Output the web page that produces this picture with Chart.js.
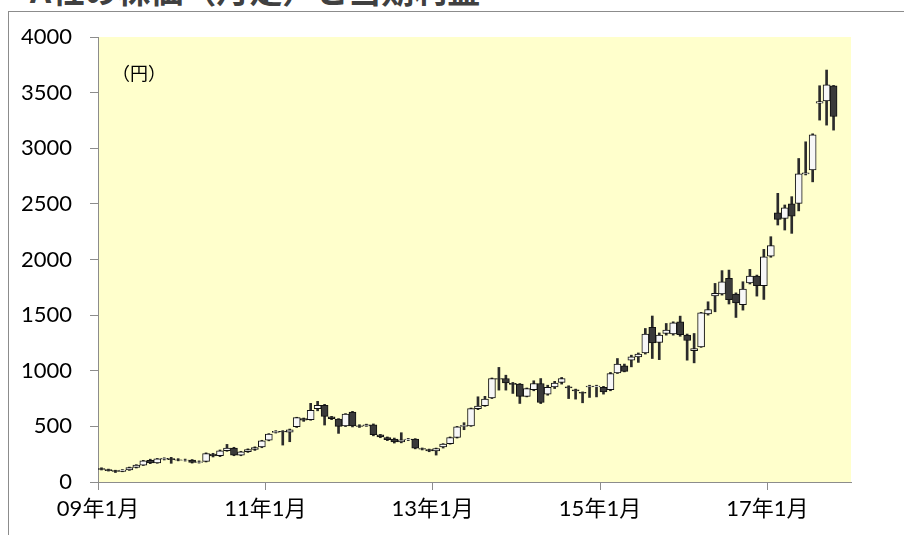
<!DOCTYPE html>
<html lang="ja">
<head>
<meta charset="utf-8">
<script src="https://cdn.jsdelivr.net/npm/chart.js@4.4.1/dist/chart.umd.min.js"></script>
<style>
  html, body { margin: 0; padding: 0; background: #fff; }
  #wrap { position: relative; width: 904px; height: 535px; overflow: hidden; }
  #title { position: absolute; left: 30px; top: -27px; font: bold 33px 'Noto Sans CJK JP'; line-height: 33px; color: #404040; white-space: nowrap; }
  #frame { position: absolute; left: 8px; top: 11px; width: 1000px; height: 1000px; border-left: 1px solid #8c8c8c; border-top: 1px solid #8c8c8c; }
  canvas { position: absolute; left: 0; top: 0; }
</style>
</head>
<body>
<div id="wrap">
  <div id="title">A社の株価（月足）と当期利益</div>
  <div id="frame"></div>
  <canvas id="viz" width="904" height="535"></canvas>
</div>
<script>
// Monthly candles, 09年1月 .. 17年10月 (yen)
const OPEN  = [120,112,102, 96,108,130,152,195,172,205,210,200,196,198,176,185,252,236,282,305,
               242,272,292,315,375,445,455,448,498,570,560,660,690,585,565,505,628,505,505,515,
               425,400,385,360,380,385,300,292,280,315,345,400,500,505,660,685,755,930,930,886,
               880,770,830,885,790,855,895,855,828,805,855,858,850,830,980,1045,1095,1125,1160,1390,
               1255,1335,1330,1440,1320,1180,1215,1510,1672,1690,1830,1690,1595,1790,1850,1765,2030,2420,2370,2500,
               2505,2770,2805,3405,3425,3560];
const HIGH  = [128,116,106,112,134,156,195,205,212,218,222,210,206,202,190,262,258,288,338,312,
               276,298,316,375,435,462,462,476,582,575,707,725,698,590,570,615,635,515,520,522,
               428,405,395,443,392,390,306,296,305,345,405,500,533,665,766,770,935,1030,960,895,
               885,845,910,930,870,905,940,865,835,810,870,870,860,985,1110,1060,1140,1160,1380,1492,
               1340,1425,1440,1491,1330,1335,1525,1620,1785,1900,1905,1700,1800,1911,1860,2091,2205,2595,2490,2565,
               2908,3058,3130,3562,3703,3565];
const LOW   = [108, 98, 85, 92,104,126,148,165,168,198,168,190,188,170,170,180,225,228,276,236,
               236,266,284,308,370,440,332,362,490,545,555,640,512,560,437,498,495,490,500,415,
               398,372,350,352,372,298,288,272,242,305,340,395,470,500,650,680,750,826,826,796,
               706,765,820,705,780,840,880,750,745,712,760,765,790,820,975,990,1035,1075,1150,1110,
               1100,1320,1320,1310,1095,1071,1210,1500,1530,1680,1600,1479,1545,1780,1671,1641,2020,2310,2265,2235,
               2437,2760,2698,3253,3208,3163];
const CLOSE = [112,102, 96,108,130,152,190,172,208,212,200,196,198,175,182,255,235,280,305,242,
               272,292,310,370,430,455,450,470,578,555,645,690,590,570,500,610,505,500,515,425,
               405,380,360,380,385,305,295,280,300,340,400,495,510,660,682,745,930,925,890,877,
               770,840,885,715,850,890,930,845,818,798,862,862,810,975,1060,995,1125,1150,1330,1250,
               1320,1365,1430,1325,1272,1200,1520,1550,1695,1800,1640,1610,1735,1850,1765,2025,2125,2360,2465,2390,
               2770,2780,3120,3420,3570,3285];

// Axis: months from 09年1月, 108 months shown
const X_MONTHS = 108;
const TICK_POS = [0, 24, 48, 72, 96];
const TICK_LABELS = ['09年1月', '11年1月', '13年1月', '15年1月', '17年1月'];
const Y_MAX = 4000;
const Y_STEP = 500;

const FONT = "Lato, 'Noto Sans CJK JP', sans-serif";
const AXIS_GRAY = '#8c8c8c';

// candle centred between month ticks
const wicks = OPEN.map((_, i) => ({ x: i + 0.5, y: [LOW[i], HIGH[i]] }));
const bodies = OPEN.map((o, i) => ({ x: i + 0.5, y: [Math.min(o, CLOSE[i]), Math.max(o, CLOSE[i])] }));
const bodyFill = OPEN.map((o, i) => CLOSE[i] >= o ? '#F7F7F7' : '#3A3A3A');

const plotBg = {
  id: 'plotBg',
  beforeDraw(chart) {
    const { ctx, chartArea: a } = chart;
    ctx.save();
    ctx.fillStyle = '#FFFFCC';
    ctx.fillRect(a.left, a.top, a.right - a.left, a.bottom - a.top);
    ctx.restore();
  },
  afterDraw(chart) {
    const { ctx, chartArea: a } = chart;
    ctx.save();
    ctx.font = "18px 'Noto Sans CJK JP'";
    ctx.fillStyle = '#000';
    ctx.textBaseline = 'middle';
    ctx.fillText('（円）', a.left + 14, a.top + 36);
    ctx.restore();
  }
};

new Chart(document.getElementById('viz'), {
  type: 'bar',
  data: {
    datasets: [
      { label: 'wick', data: wicks, backgroundColor: '#2b2b2b', barThickness: 2, grouped: false, order: 2 },
      { label: 'body', data: bodies, backgroundColor: bodyFill, borderColor: '#111', borderWidth: 1,
        borderSkipped: false, barThickness: 7, grouped: false, order: 1 }
    ]
  },
  options: {
    responsive: false,
    animation: false,
    layout: { padding: { top: 37, right: 53, left: 0, bottom: 0 } },
    plugins: { legend: { display: false }, tooltip: { enabled: false } },
    scales: {
      x: {
        type: 'linear', min: 0, max: X_MONTHS, offset: false,
        grid: { offset: false, drawOnChartArea: false, tickLength: 8, color: AXIS_GRAY },
        border: { color: AXIS_GRAY },
        afterBuildTicks: (s) => { s.ticks = TICK_POS.map(v => ({ value: v })); },
        afterFit: (s) => { s.height = 53; },
        ticks: {
          autoSkip: false, maxRotation: 0, padding: 6, color: '#000',
          font: { family: FONT, size: 22 },
          callback: (v) => TICK_LABELS[TICK_POS.indexOf(v)]
        }
      },
      y: {
        min: 0, max: Y_MAX,
        grid: { drawOnChartArea: false, tickLength: 8, color: AXIS_GRAY },
        border: { color: AXIS_GRAY },
        afterFit: (s) => { s.width = 98; },
        ticks: { stepSize: Y_STEP, padding: 18, color: '#000', font: { family: FONT, size: 22 },
          callback: (v) => String(v) }
      }
    }
  },
  plugins: [plotBg]
});
</script>
</body>
</html>
